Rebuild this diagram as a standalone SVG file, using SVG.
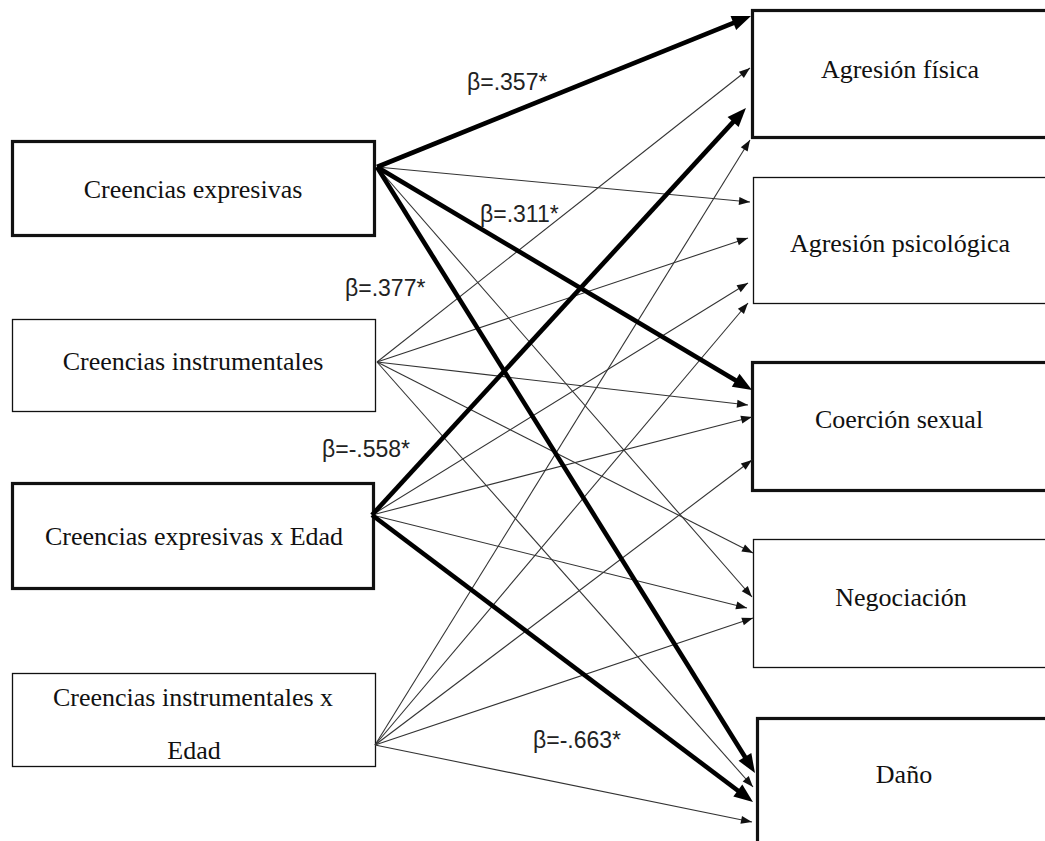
<svg xmlns="http://www.w3.org/2000/svg" width="1045" height="841" viewBox="0 0 1045 841">
<style>
.box{fill:#fff;stroke:#111}
.thick{stroke-width:3.2}
.thin{stroke-width:1.3}
.t{font-family:"Liberation Serif","Times New Roman",serif;font-size:26px;fill:#111;text-anchor:middle}
.b{font-family:"Liberation Sans",Arial,sans-serif;font-size:23px;fill:#222}
.c1{stroke:#333;stroke-width:1.1;fill:none;marker-end:url(#ah)}
.c2{stroke:#000;stroke-width:4.6;fill:none;marker-end:url(#ahb)}
</style>
<defs>
<marker id="ah" markerUnits="userSpaceOnUse" markerWidth="12" markerHeight="9" refX="11" refY="4" orient="auto" overflow="visible"><path d="M0,0 L11,4 L0,8 z" fill="#111"/></marker>
<marker id="ahb" markerUnits="userSpaceOnUse" markerWidth="20" markerHeight="16" refX="9" refY="7.5" orient="auto" overflow="visible"><path d="M0,0 L19,7.5 L0,15 z" fill="#000"/></marker>
</defs>
<rect width="1045" height="841" fill="#fff"/>
<g id="n-ce"><rect class="box thick" x="12.5" y="141.5" width="362" height="94"/><text class="t" x="193" y="198">Creencias expresivas</text></g>
<g id="n-ci"><rect class="box thin" x="12.5" y="319.5" width="363" height="92"/><text class="t" x="193" y="370">Creencias instrumentales</text></g>
<g id="n-cee"><rect class="box thick" x="12.5" y="483.5" width="361" height="105"/><text class="t" x="194" y="545">Creencias expresivas x Edad</text></g>
<g id="n-cie"><rect class="box thin" x="12.5" y="673.5" width="363" height="93"/><text class="t" x="193" y="706">Creencias instrumentales x</text><text class="t" x="194" y="759">Edad</text></g>
<g id="n-af"><rect class="box thick" x="752.5" y="10.5" width="320" height="127"/><text class="t" x="900" y="78">Agresión física</text></g>
<g id="n-ap"><rect class="box thin" x="753.5" y="177.5" width="320" height="126"/><text class="t" x="900" y="252">Agresión psicológica</text></g>
<g id="n-cs"><rect class="box thick" x="752.5" y="362.5" width="320" height="128"/><text class="t" x="899" y="428">Coerción sexual</text></g>
<g id="n-ne"><rect class="box thin" x="753.5" y="539.5" width="320" height="128"/><text class="t" x="901" y="606">Negociación</text></g>
<g id="n-da"><rect class="box thick" x="757.5" y="718.5" width="320" height="140"/><text class="t" x="904" y="783">Daño</text></g>
<g id="connectors">
<line class="c1" x1="377" y1="167" x2="750" y2="202"/>
<line class="c1" x1="377" y1="167" x2="752" y2="597"/>
<line class="c1" x1="377" y1="362" x2="750" y2="68"/>
<line class="c1" x1="377" y1="362" x2="748" y2="238"/>
<line class="c1" x1="377" y1="362" x2="748" y2="405"/>
<line class="c1" x1="377" y1="362" x2="753" y2="553"/>
<line class="c1" x1="377" y1="362" x2="753" y2="787"/>
<line class="c1" x1="372" y1="515" x2="748" y2="283"/>
<line class="c1" x1="372" y1="515" x2="752" y2="417"/>
<line class="c1" x1="372" y1="515" x2="747" y2="608"/>
<line class="c1" x1="375" y1="745" x2="750" y2="140"/>
<line class="c1" x1="375" y1="745" x2="748" y2="303"/>
<line class="c1" x1="375" y1="745" x2="752" y2="460"/>
<line class="c1" x1="375" y1="745" x2="753" y2="618"/>
<line class="c1" x1="375" y1="745" x2="752" y2="822"/>
<line class="c2" x1="377" y1="167" x2="741.7" y2="19.7"/>
<line class="c2" x1="377" y1="167" x2="743.4" y2="384.9"/>
<line class="c2" x1="377" y1="167" x2="749.7" y2="764.5"/>
<line class="c2" x1="372" y1="515" x2="739.2" y2="115.4"/>
<line class="c2" x1="372" y1="515" x2="745" y2="796"/>
</g>
<g id="labels">
<text class="b" x="467" y="90">β=.357*</text>
<text class="b" x="480" y="222">β=.311*</text>
<text class="b" x="345" y="296">β=.377*</text>
<text class="b" x="322" y="457">β=-.558*</text>
<text class="b" x="533" y="748">β=-.663*</text>
</g>
</svg>
